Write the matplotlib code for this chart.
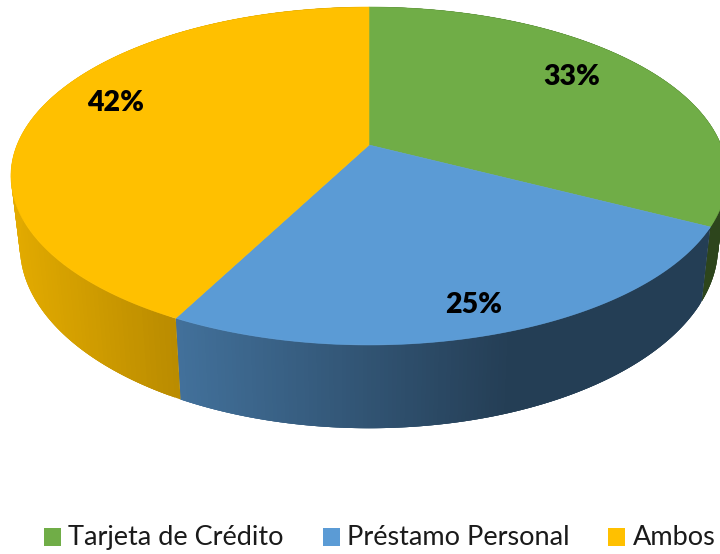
#!/usr/bin/env python3
"""3D-look pie chart: the top disc and rim are projected by hand, since
matplotlib's pie has no perspective."""

import numpy as np
import matplotlib

matplotlib.use("Agg")
import matplotlib.pyplot as plt  # noqa: E402
from matplotlib.patches import Polygon, Rectangle  # noqa: E402

categories = ["Tarjeta de Crédito", "Préstamo Personal", "Ambos"]
shares = [32.6, 25.0, 42.4]
colors = ["#70AD47", "#5B9BD5", "#FFC000"]

# Projection of the unit disc onto the canvas, in pixels.
CX, CY = 369.0, 145.0
KX = 352.0
A, C = -136.7, 0.1834
DEPTH = 68.0
BOTTOM_SCALE = 0.975

# Where each percent label sits, in pixels.
LABEL_POS = [(572, 77), (474, 305), (116, 103)]
# Legend layout: swatch left edge, text left edge.
LEGEND_X = [(44, 68), (323, 347), (608, 633)]


def top_xy(theta):
    """theta runs clockwise from 12 o'clock, in radians."""
    u, v = np.sin(theta), np.cos(theta)
    w = 1 + C * v
    return CX + KX * u / w, (A * v + CY) / w


def bottom_xy(theta):
    x, y = top_xy(theta)
    w = 1 + C * np.cos(theta)
    return CX + BOTTOM_SCALE * (x - CX), y + DEPTH / w


def rim_shade(x):
    """Rim gets darker left to right, then stays flat."""
    return np.clip(0.72 + (183 - x) * 0.00098, 0.40, 0.90)


def main():
    fig = plt.figure(figsize=(7.2, 5.54), dpi=100)
    ax = fig.add_axes([0, 0, 1, 1])
    ax.set_xlim(0, 720)
    ax.set_ylim(554, 0)
    ax.axis("off")

    edges = np.cumsum([0] + shares) / sum(shares) * 2 * np.pi

    # rim first, the top disc covers whatever is not visible
    for i, color in enumerate(colors):
        base = np.array(matplotlib.colors.to_rgb(color))
        steps = np.linspace(edges[i], edges[i + 1], 160)
        # each quad runs to the end of the wedge and the next paints over it,
        # otherwise antialiasing leaves stripes between neighbours
        order = range(len(steps) - 1)
        if np.cos(steps[len(steps) // 2]) < 0 and np.sin(steps[len(steps) // 2]) < 0:
            order = reversed(order)  # yellow wedge: go in the other direction
            order = list(order)
        for j in order:
            t0 = steps[j]
            t1 = steps[min(j + 3, len(steps) - 1)]
            x0, y0 = top_xy(t0)
            x1, y1 = top_xy(t1)
            x2, y2 = bottom_xy(t1)
            x3, y3 = bottom_xy(t0)
            shade = base * rim_shade((x0 + top_xy(steps[j + 1])[0]) / 2)
            ax.add_patch(Polygon([(x0, y0), (x1, y1), (x2, y2), (x3, y3)],
                                 closed=True, fc=shade, ec="none", zorder=2))

    for i, color in enumerate(colors):
        steps = np.linspace(edges[i], edges[i + 1], 240)
        xs, ys = top_xy(steps)
        pts = [(CX, CY)] + list(zip(xs, ys))
        ax.add_patch(Polygon(pts, closed=True, fc=color, ec=color, lw=0.4, zorder=3))

    for share, (lx, ly) in zip(shares, LABEL_POS):
        ax.text(lx, ly, f"{share:.0f}%", ha="center", va="center", zorder=4,
                family="Lato", weight="heavy", fontsize=20.5, color="black")

    for name, color, (sx, tx) in zip(categories, colors, LEGEND_X):
        ax.add_patch(Rectangle((sx, 528), 17, 18, fc=color, ec="none"))
        ax.text(tx, 537.5, name, ha="left", va="center", family="Lato",
                fontsize=19.5, color="#1a1a1a")

    fig.savefig("out.png", dpi=100)


if __name__ == "__main__":
    main()
